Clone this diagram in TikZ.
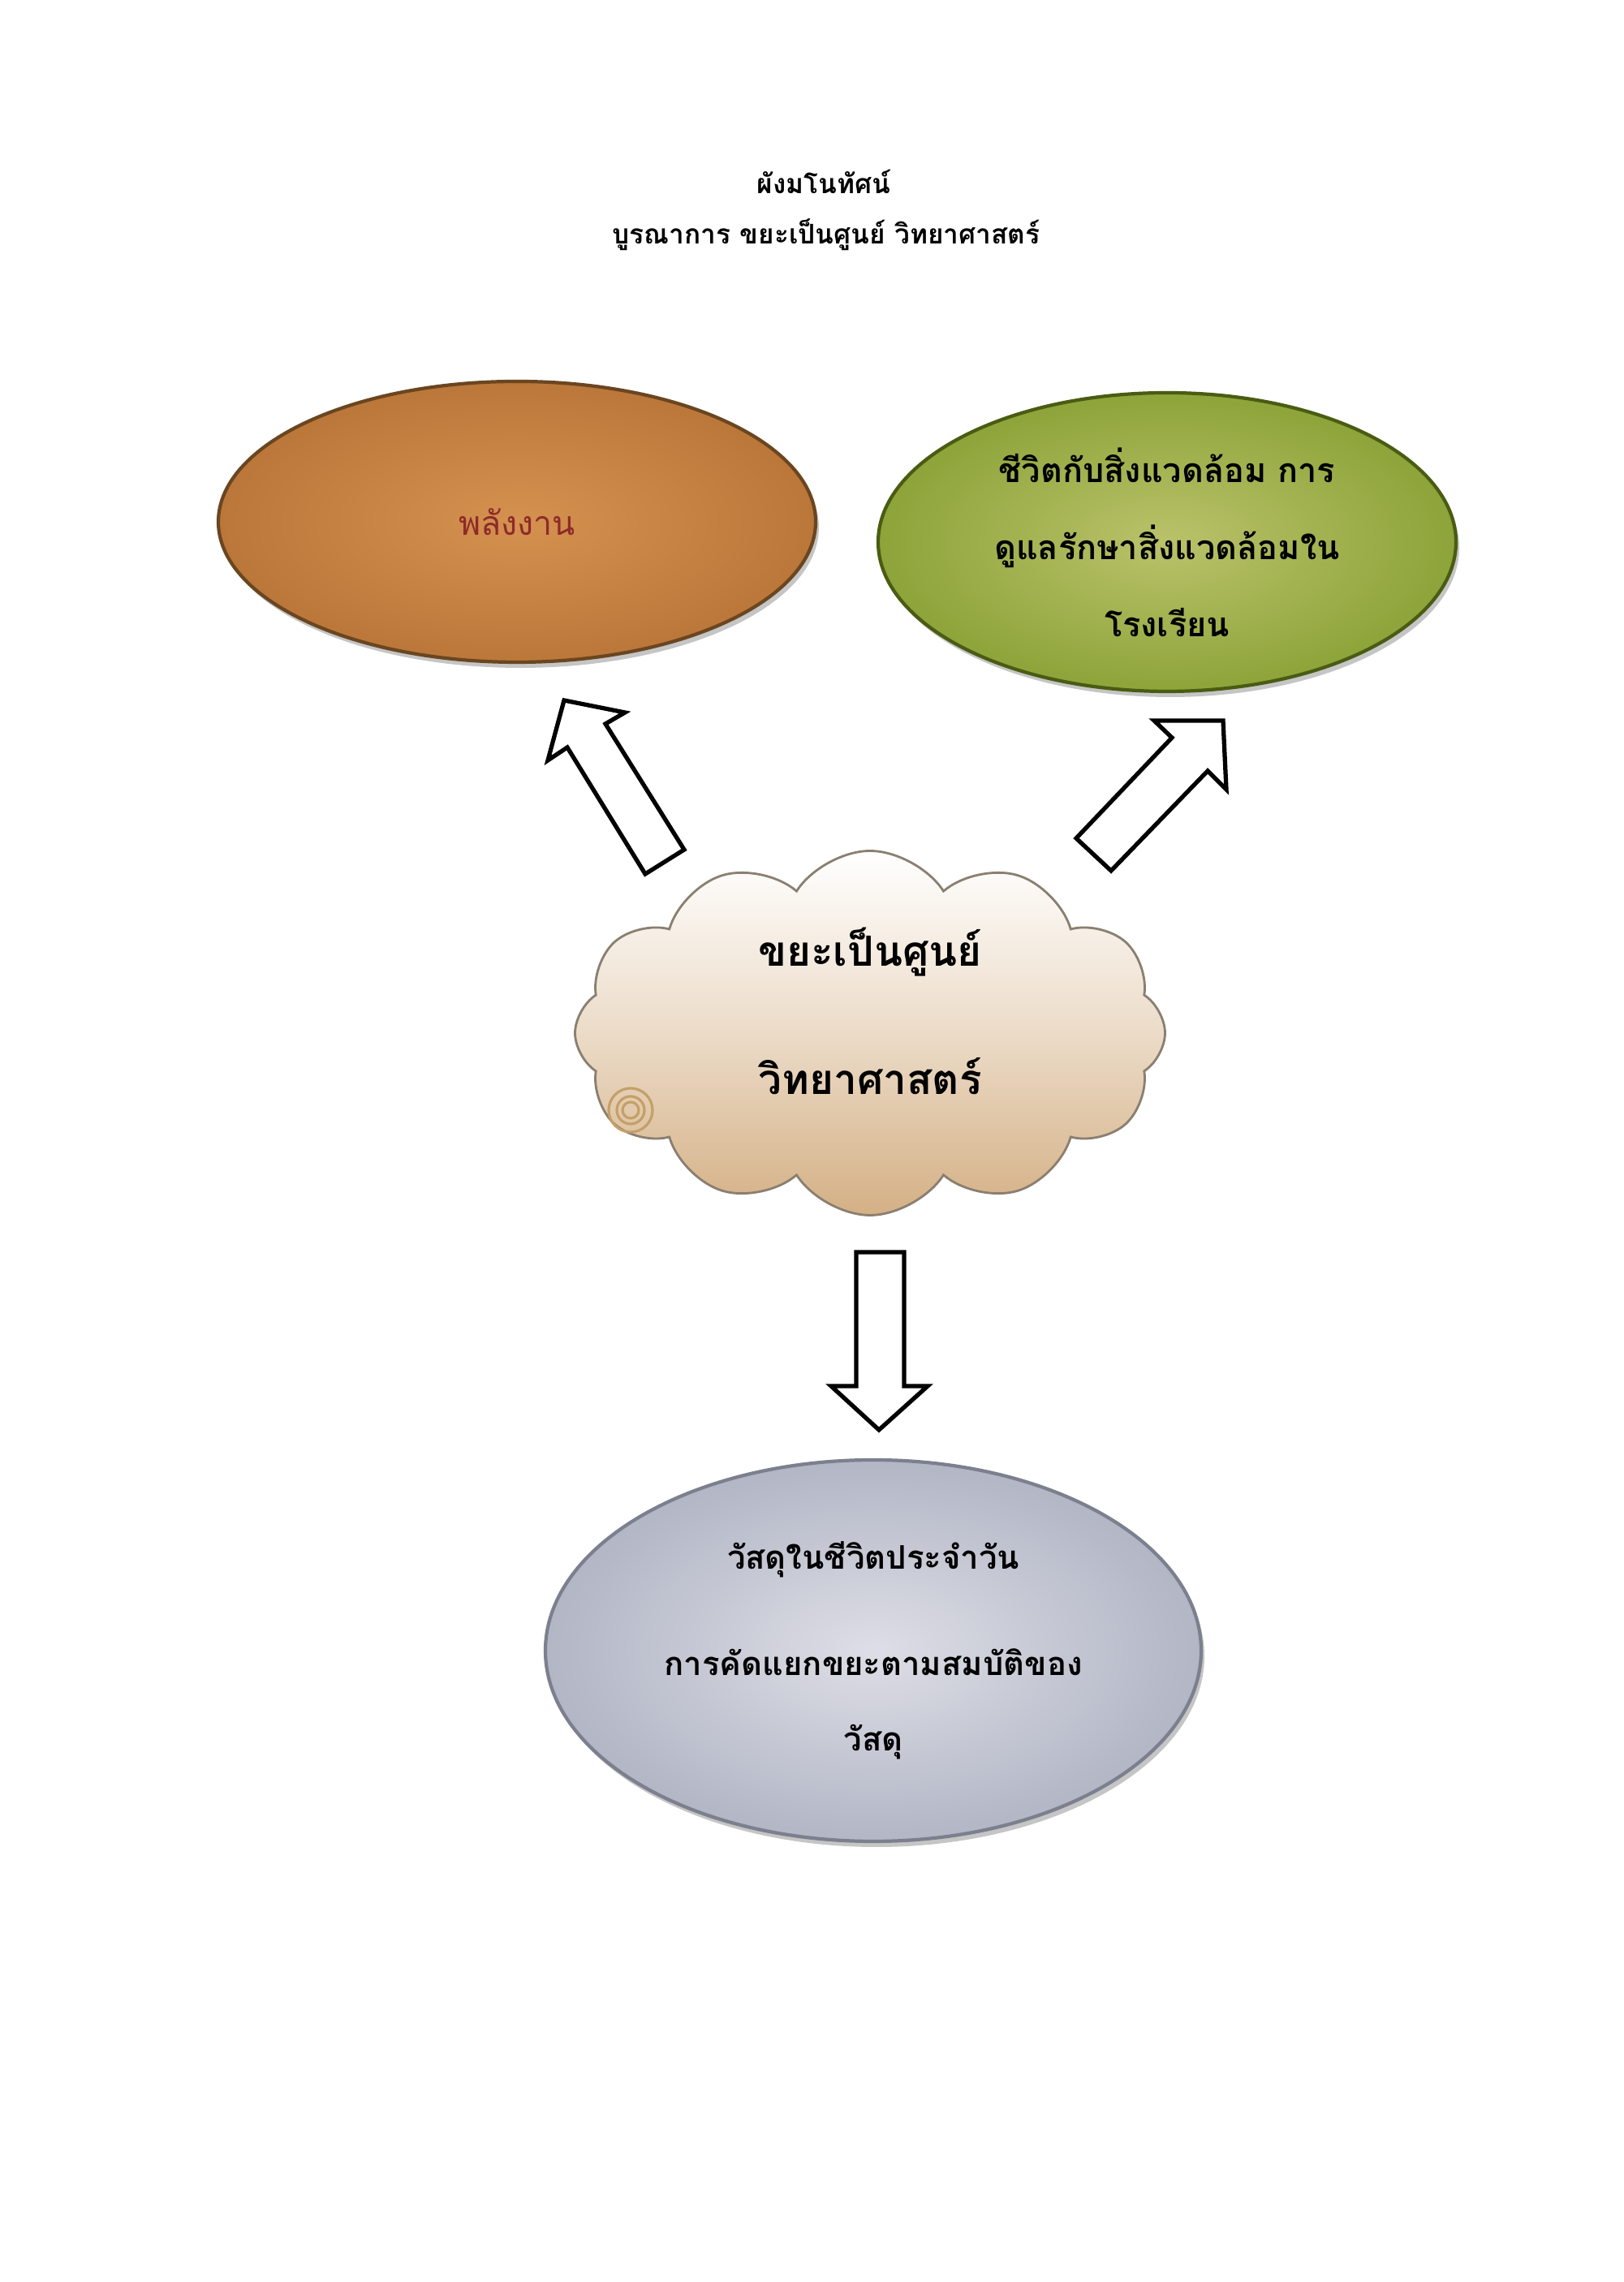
\documentclass[tikz,border=0pt]{standalone}
\usepackage{fontspec}
\newfontfamily\thaifont[Script=Thai]{Loma}
\usetikzlibrary{shapes.geometric,shapes.symbols,shadows}

\definecolor{energyin}{HTML}{D4914F}
\definecolor{energyout}{HTML}{BB773A}
\definecolor{energyline}{HTML}{6A4620}
\definecolor{energytext}{HTML}{8E2A2A}
\definecolor{lifein}{HTML}{BAC26A}
\definecolor{lifeout}{HTML}{8DA43A}
\definecolor{lifeline}{HTML}{4A5C12}
\definecolor{matin}{HTML}{DDDEE6}
\definecolor{matout}{HTML}{B2B6C5}
\definecolor{matline}{HTML}{7C808E}
\definecolor{cloudtan}{HTML}{D4B085}
\definecolor{cloudline}{HTML}{8A7F70}
\definecolor{swirl}{HTML}{C4A068}

\tikzset{
  topic/.style={ellipse, inner sep=0pt, align=center, line width=1.2pt,
    drop shadow={opacity=0.45, shadow xshift=0.04cm, shadow yshift=-0.07cm}},
  blockarrow/.style={draw=black, line width=1.5pt, fill=white, line join=miter}
}

\begin{document}
\begin{tikzpicture}
  \useasboundingbox[fill=white] (0, 0) rectangle (20, 28.12);

  % heading
  \node (title) at (10.15, 25.88) [font=\thaifont\bfseries\fontsize{9.5}{11}\selectfont] {ผังมโนทัศน์};
  \node (subtitle) at (10.18, 25.23) [font=\thaifont\bfseries\fontsize{9.5}{11}\selectfont] {บูรณาการ ขยะเป็นศูนย์ วิทยาศาสตร์};

  % topics
  \node (energy) at (6.37, 21.69) [topic, draw=energyline, inner color=energyin, outer color=energyout,
    minimum width=7.36cm, minimum height=3.46cm,
    font=\thaifont\fontsize{11.7}{14}\selectfont, text=energytext] {พลังงาน};
  \node (life) at (14.38, 21.44) [topic, draw=lifeline, inner color=lifein, outer color=lifeout,
    minimum width=7.12cm, minimum height=3.68cm,
    font=\thaifont\bfseries\fontsize{11.8}{27}\selectfont]
    {ชีวิตกับสิ่งแวดล้อม การ\\ดูแลรักษาสิ่งแวดล้อมใน\\โรงเรียน};
  \node (material) at (10.76, 7.78) [topic, draw=matline, inner color=matin, outer color=matout,
    minimum width=8.08cm, minimum height=4.70cm,
    font=\thaifont\bfseries\fontsize{11.4}{26.4}\selectfont]
    {วัสดุในชีวิตประจำวัน\\[0.38cm]การคัดแยกขยะตามสมบัติของ\\วัสดุ};

  % centre
  \node (zero) at (10.72, 15.39) [cloud, cloud puffs=12, cloud puff arc=115, aspect=1.6,
    draw=cloudline, line width=0.8pt, top color=white, bottom color=cloudtan, middle color=white!55!cloudtan,
    minimum width=7.27cm, minimum height=4.49cm] {};
  \node (zerotext) at ([yshift=0.27cm]zero.center) [align=center,
    font=\thaifont\bfseries\fontsize{14.6}{45}\selectfont] {ขยะเป็นศูนย์\\วิทยาศาสตร์};
  \draw[swirl, line width=0.9pt] (7.77, 14.44) circle (0.27) circle (0.17) circle (0.10);

  % block arrows
  \draw[blockarrow] (6.95, 19.49) -- (7.70, 19.34) -- (7.46, 19.20) -- (8.43, 17.65)
    -- (7.95, 17.35) -- (6.99, 18.91) -- (6.75, 18.75) -- cycle;
  \draw[blockarrow] (15.07, 19.24) -- (14.22, 19.24) -- (14.44, 19.03) -- (13.26, 17.79)
    -- (13.69, 17.39) -- (14.88, 18.62) -- (15.11, 18.39) -- cycle;
  \draw[blockarrow] (10.55, 12.69) -- (11.14, 12.69) -- (11.14, 11.04) -- (11.43, 11.04)
    -- (10.83, 10.50) -- (10.24, 11.04) -- (10.55, 11.04) -- cycle;
\end{tikzpicture}
\end{document}
